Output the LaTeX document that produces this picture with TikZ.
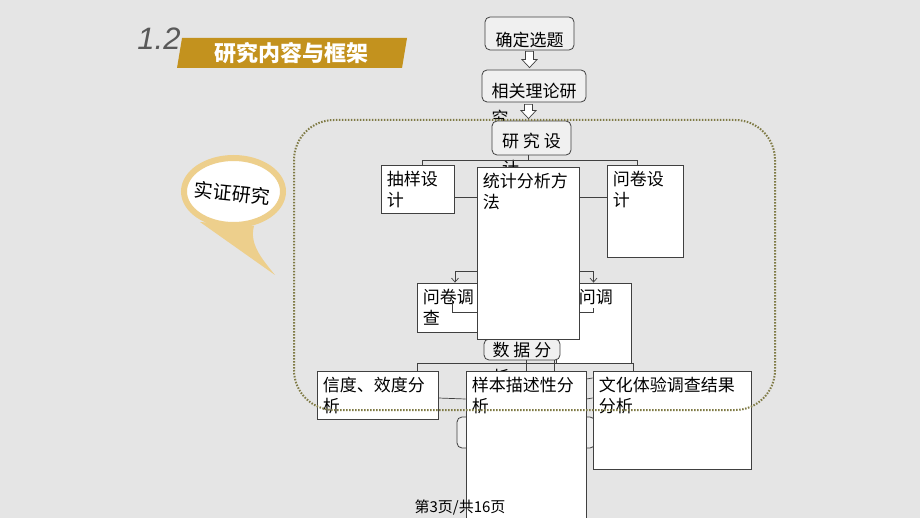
\documentclass[tikz,border=0pt]{standalone}
\usepackage{fontspec}
\setmainfont{Noto Sans CJK SC}
\newfontfamily\numfont{Liberation Sans}
\usepackage{tikz}
\usetikzlibrary{arrows.meta, calc, positioning}
\definecolor{slideBg}{HTML}{E5E5E5}
\definecolor{bannerGold}{HTML}{C3921E}
\definecolor{bubbleGold}{HTML}{EDCF8C}
\definecolor{frameOlive}{HTML}{7F7A45}
\definecolor{boxLine}{HTML}{404040}
\definecolor{boxFill}{HTML}{F0F0F0}
\tikzset{
  boxfont/.style={font=\fontsize{17}{21.7}\selectfont},
  rfont/.style={font=\fontsize{17}{27}\selectfont},
  rbox/.style={draw=boxLine, rounded corners=5pt, fill=boxFill, line width=0.8pt, inner sep=0pt},
  sbox/.style={draw=boxLine, fill=white, line width=0.8pt, inner sep=0pt},
  toptext/.style 2 args={label={[rfont, anchor=north, align=left, inner sep=#1]north:{#2}}},
  cornertext/.style={label={[boxfont, anchor=north west, align=left, inner sep=6pt]north west:{#1}}},
  tree/.style={draw=boxLine, line width=0.7pt},
}
% hollow block arrow between two boxes
\newcommand{\blockarrow}[2]{%
  \draw[hollow] let \p1=#1, \p2=#2 in
    (\x1-4pt,\y1) -- (\x1-4pt,\y2+8pt) -- (\x1-7.5pt,\y2+8pt) -- (\x1,\y2)
    -- (\x1+7.5pt,\y2+8pt) -- (\x1+4pt,\y2+8pt) -- (\x1+4pt,\y1) -- cycle;}

\begin{document}
\begin{tikzpicture}[x=1pt, y=-1pt,
    hollow/.style={draw=boxLine, fill=white, line width=0.7pt},
    arr/.style={tree, -{Straight Barb[length=4pt, width=7pt]}},
  ]
  \useasboundingbox[fill=slideBg] (0,0) rectangle (920,518);

  % title
  \fill[bannerGold] (182,38) -- (407,38) -- (402,68) -- (177,68) -- cycle;
  \node[font=\bfseries\fontsize{22}{22}\selectfont, text=white] (title) at (291,53) {研究内容与框架};
  \node[font=\numfont\itshape\fontsize{31}{31}\selectfont, text=black!65] (secnum) at (159,39) {1.2};

  % speech bubble
  \fill[bubbleGold] (200,222) -- (275,275) .. controls (262,259) and (249,244) .. (254,226) -- cycle;
  \draw[bubbleGold, line width=6pt, fill=white] (233.5,191.5) ellipse [x radius=49.5, y radius=33.5];
  \node[font=\fontsize{19}{19}\selectfont, rotate=-6] (shizheng) at (232,193) {实证研究};

  % upper part
  \node[rbox, minimum width=89, minimum height=33, toptext={15pt}{确定选题}] (xuanti) at (529.5,33.5) {};
  \node[rbox, minimum width=104, minimum height=32, toptext={13pt}{相关理论研\\究}] (lilun) at (534,86) {};
  \blockarrow{([yshift=-1]xuanti.south)}{([yshift=2]lilun.north)}
  \node[rbox, minimum width=79, minimum height=34, toptext={12pt}{研 究 设\\计}] (sheji) at (531.5,138) {};
  \blockarrow{([xshift=-5.5, yshift=-2]lilun.south)}{([yshift=2]sheji.north)}

  \node[sbox, minimum width=73, minimum height=48, cornertext={抽样设\\计}] (chouyang) at (417.5,189) {};
  \node[sbox, minimum width=76, minimum height=92, cornertext={问卷设\\计}] (wenjuansj) at (645,211) {};
  \draw[tree] ([xshift=-3.5]sheji.south) -- ++(0,5) -| ([xshift=4.5]chouyang.north);
  \draw[tree] ([xshift=-3.5]sheji.south) -- ++(0,5) -| ([xshift=-8]wenjuansj.north);

  \node[sbox, minimum width=76, minimum height=49, cornertext={问卷调\\查}] (diaocha) at (455,307.5) {};
  \node[sbox, minimum width=75, minimum height=80, cornertext={访问调\\查}] (fangwen) at (593.5,323) {};
  \node[rbox, minimum width=76, minimum height=21, toptext={3pt}{数 据 分\\析}] (shuju) at (522,349.5) {};
  \node[sbox, minimum width=102, minimum height=172, cornertext={统计分析方\\法}] (tongji) at (528,253) {};

  \draw[tree] ([yshift=-8]chouyang.east) -- ([yshift=56]tongji.west);
  \draw[tree] ([yshift=56]tongji.east) -- ([yshift=14]wenjuansj.west);
  \draw[arr] ([yshift=-18]tongji.west) -| (diaocha.north);
  \draw[arr] ([yshift=-18]tongji.east) -| (fangwen.north);
  \draw[tree] ([xshift=-3, yshift=7]diaocha.center) |- ([yshift=-59]tongji.west);
  \draw[tree] ([yshift=-59]tongji.east) -| ([yshift=15]fangwen.center);

  % lower part
  \node[sbox, minimum width=121, minimum height=48, cornertext={信度、效度分\\析}] (xindu) at (377.5,395) {};
  \node[rbox, minimum width=138, minimum height=31] (jielun) at (526,432.5) {};
  \node[sbox, minimum width=120, minimum height=160, cornertext={样本描述性分\\析}] (yangben) at (526,451) {};
  \node[sbox, minimum width=158, minimum height=98, cornertext={文化体验调查结果\\分析}] (wenhua) at (672,420) {};

  \draw[tree] ([xshift=40]xindu.north) -- ++(0,-7) -| ([xshift=-39]wenhua.north);
  \draw[tree] ([xshift=4]shuju.south) -- (yangben.north);
  \draw[tree] ([xshift=32]shuju.south) -- ([xshift=28]yangben.north);
  \draw[tree] ([yshift=-3]xindu.east) -- ([yshift=52]yangben.west);
  \draw[tree] ([yshift=52]yangben.east) -- ([yshift=22]wenhua.west);
  \draw[tree] ([yshift=72]yangben.east) -- ([yshift=42]wenhua.west);

  % dotted frame
  \draw[frameOlive, line width=2pt, dash pattern=on 1.5pt off 1.5pt, rounded corners=40pt]
    (294,120) rectangle (775,410);

  \node[font=\fontsize{15}{15}\selectfont] (pageno) at (460,508) {第3页/共16页};
\end{tikzpicture}
\end{document}
